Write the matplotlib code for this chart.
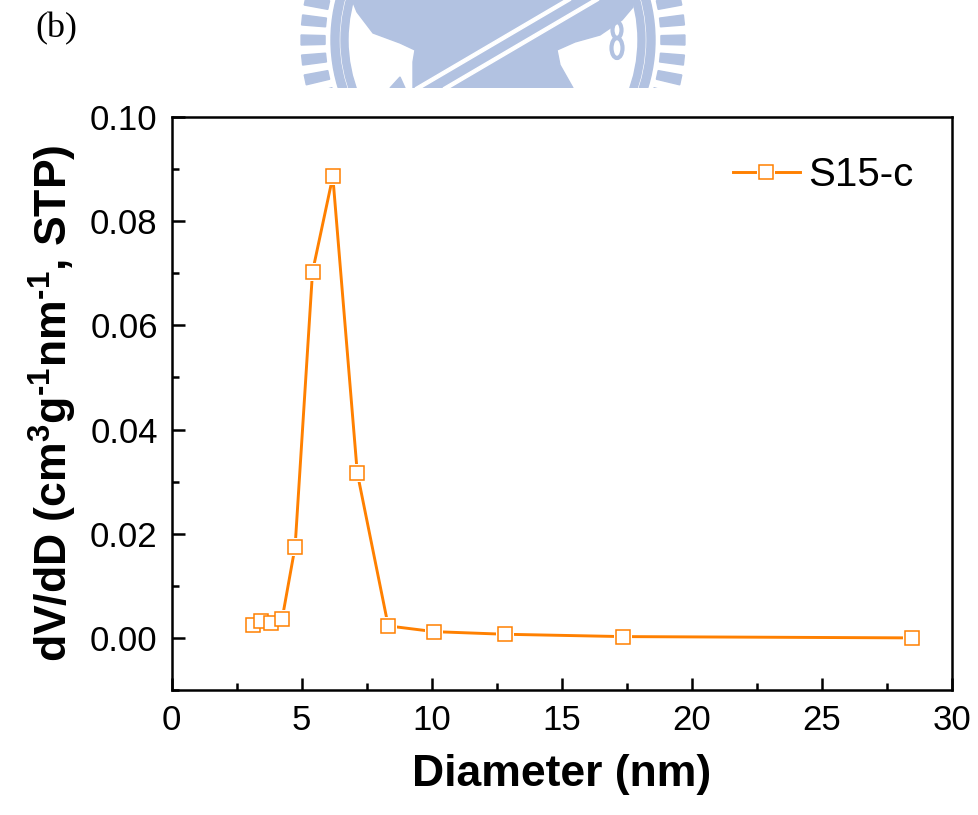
import matplotlib
matplotlib.use("Agg")
import matplotlib.pyplot as plt
import numpy as np
from matplotlib.patches import Polygon, Wedge, Rectangle, Ellipse
from matplotlib.ticker import MultipleLocator

# pore size distribution
diameter = [3.12, 3.44, 3.83, 4.25, 4.75, 5.42, 6.20, 7.14, 8.33, 10.1, 12.8, 17.34, 28.45]
dvdd = [0.0025, 0.0033, 0.0029, 0.0036, 0.0175, 0.0703, 0.0886, 0.0317,
        0.0023, 0.0012, 0.0007, 0.00025, 0.0]
series_label = "S15-c"
xticks = [0, 5, 10, 15, 20, 25, 30]
yticks = [0.00, 0.02, 0.04, 0.06, 0.08, 0.10]

ORANGE = "#FF8000"
WM = "#B2C2E1"

plt.rcParams["font.family"] = ["Liberation Sans", "DejaVu Sans"]
plt.rcParams["mathtext.fontset"] = "custom"
plt.rcParams["mathtext.rm"] = "Liberation Sans:bold"
plt.rcParams["mathtext.bf"] = "Liberation Sans:bold"

fig = plt.figure(figsize=(9.79, 8.15), dpi=100)

# faint watermark at the top (decoration from the source page), pixel coords
bg = fig.add_axes([0, 0, 1, 1], zorder=0)
bg.set_xlim(0, 979)
bg.set_ylim(815, 0)
bg.axis("off")
clip = Rectangle((0, 0), 979, 88, transform=bg.transData)
cx, cy = 493, 40
parts = [
    Wedge((cx, cy), 162, 0, 360, width=8, color=WM),
    Wedge((cx, cy), 152, 0, 360, width=7, color=WM),
    Polygon([(352, 0), (633, 0), (633, 7), (622, 20), (600, 35), (575, 42),
             (557, 50), (560, 65), (573, 88), (413, 88), (413, 62), (415, 50),
             (400, 43), (373, 33), (357, 12)], color=WM),
    Polygon([(390, 88), (400, 77), (405, 88)], color=WM),
]
for base in (180, 0):
    for k in range(-4, 5):
        t = np.deg2rad(base + k * 6.0)
        d = np.deg2rad(1.5)
        r0, r1 = 168, 192
        pts = [(cx + r0 * np.cos(t - d), cy + r0 * np.sin(t - d)),
               (cx + r1 * np.cos(t - d), cy + r1 * np.sin(t - d)),
               (cx + r1 * np.cos(t + d), cy + r1 * np.sin(t + d)),
               (cx + r0 * np.cos(t + d), cy + r0 * np.sin(t + d))]
        parts.append(Polygon(pts, color=WM))
for off in (0, 28):
    parts.append(Polygon([(565 + off, 0), (571 + off, 0), (421 + off, 88),
                          (415 + off, 88)], color="white"))
parts.append(Ellipse((617, 30), 9, 16, fill=False, ec=WM, lw=3))
parts.append(Ellipse((617, 48), 11, 20, fill=False, ec=WM, lw=3))
for p in parts:
    bg.add_patch(p)
    p.set_clip_path(clip)

fig.text(35 / 979, 1 - 12 / 815, "(b)", family="Liberation Serif", fontsize=26,
         va="top", ha="left")

ax = fig.add_axes([0.1752, 0.1534, 0.9724 - 0.1752, 0.8564 - 0.1534], zorder=1)
ax.patch.set_alpha(0)

ln, = ax.plot(diameter, dvdd, color=ORANGE, lw=2.1, zorder=2)
gap, = ax.plot(diameter, dvdd, ls="none", marker="s", ms=13, mfc="white",
               mec="white", mew=0, zorder=3)
mk, = ax.plot(diameter, dvdd, ls="none", marker="s", ms=9.5, mfc="white",
              mec=ORANGE, mew=1.1, zorder=4)

ax.set_xlim(0, 30)
ax.set_ylim(-0.01, 0.10)
ax.set_xticks(xticks)
ax.set_yticks(yticks)
ax.set_yticklabels([f"{v:.2f}" for v in yticks])
ax.xaxis.set_minor_locator(MultipleLocator(2.5))
ax.yaxis.set_minor_locator(MultipleLocator(0.01))
ax.tick_params(which="both", direction="in", top=False, right=False,
               labelsize=25, width=1.8, pad=10)
ax.tick_params(which="major", length=9)
ax.tick_params(which="minor", length=5)
for sp in ax.spines.values():
    sp.set_linewidth(1.8)

ax.set_xlabel("Diameter (nm)", fontsize=32, fontweight="bold", labelpad=12)
ax.set_ylabel("dV/dD (cm$^{3}$g$^{\u20101}$nm$^{\u20101}$, STP)", fontsize=32,
              fontweight="bold", labelpad=8)

ax.legend([(ln, gap, mk)], [series_label], loc="upper right", frameon=False,
          fontsize=29, handlelength=1.65, handletextpad=0.2, borderpad=0,
          borderaxespad=0, bbox_to_anchor=(0.95, 0.932))

fig.savefig("out.png", dpi=100)
